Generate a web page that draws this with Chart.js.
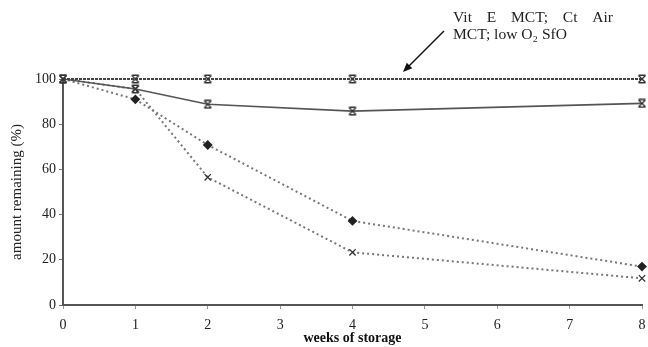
<!DOCTYPE html>
<html>
<head>
<meta charset="utf-8">
<script src="https://cdn.jsdelivr.net/npm/chart.js@4"></script>
<style>
  html, body { margin: 0; padding: 0; background: #fff; }
  #wrap { width: 648px; height: 347px; position: relative; }
</style>
</head>
<body>
<div id="wrap"><canvas id="storage_canvas"></canvas></div>
<script>
// weeks of storage
var weeks = [0, 1, 2, 4, 8];
var flatSeries = [100, 100, 100, 100, 100];
var solidSeries = [100, 95.6, 88.8, 85.8, 89.2];
var diamondSeries = [100, 91, 70.8, 37.2, 17];
var crossSeries = [100, 95.6, 56.5, 23.3, 11.8];
var xTicks = [0, 1, 2, 3, 4, 5, 6, 7, 8];
var yTicks = [0, 20, 40, 60, 80, 100];
var noteLine1 = ['Vit', 'E', 'MCT;', 'Ct', 'Air'];
var noteLine2 = 'MCT; low O\u2082 SfO';

var serif = '"Liberation Serif", "DejaVu Serif", serif';

function toPoints(values) {
    return weeks.map(function(w, i) { return {x: w, y: values[i]}; });
}

// hourglass style marker (x with bars top and bottom)
function makeHourglass() {
    var c = document.createElement('canvas');
    c.width = 10; c.height = 10;
    var g = c.getContext('2d');
    g.strokeStyle = '#333';
    g.lineWidth = 1.4;
    g.beginPath();
    g.moveTo(1.5, 1.5); g.lineTo(8.5, 8.5);
    g.moveTo(8.5, 1.5); g.lineTo(1.5, 8.5);
    g.moveTo(1.5, 1.2); g.lineTo(8.5, 1.2);
    g.moveTo(1.5, 8.8); g.lineTo(8.5, 8.8);
    g.stroke();
    return c;
}
var hourglass = makeHourglass();

var notePlugin = {
    id: 'note',
    afterDraw: function(chart) {
        var ctx = chart.ctx;
        ctx.save();
        ctx.fillStyle = '#222';
        ctx.font = '14px ' + serif;
        ctx.textBaseline = 'alphabetic';
        var left = 453, right = 613;
        var stretch = 114 / ctx.measureText(noteLine2).width;
        ctx.translate(left, 0);
        ctx.scale(stretch, 1);
        var span = (right - left) / stretch;
        // first line is justified
        var widths = noteLine1.map(function(w) { return ctx.measureText(w).width; });
        var total = widths.reduce(function(a, b) { return a + b; }, 0);
        var gap = (span - total) / (noteLine1.length - 1);
        var x = 0;
        noteLine1.forEach(function(w, i) {
            ctx.fillText(w, x, 22);
            x += widths[i] + gap;
        });
        ctx.fillText(noteLine2, 0, 38.5);
        ctx.setTransform(1, 0, 0, 1, 0, 0);

        // arrow
        ctx.strokeStyle = '#111';
        ctx.fillStyle = '#111';
        ctx.lineWidth = 1.5;
        var x1 = 444, y1 = 31, x2 = 403, y2 = 72;
        ctx.beginPath();
        ctx.moveTo(x1, y1);
        ctx.lineTo(x2 + 5, y2 - 5);
        ctx.stroke();
        var ang = Math.atan2(y2 - y1, x2 - x1);
        ctx.beginPath();
        ctx.moveTo(x2, y2);
        ctx.lineTo(x2 - 10 * Math.cos(ang - 0.4), y2 - 10 * Math.sin(ang - 0.4));
        ctx.lineTo(x2 - 10 * Math.cos(ang + 0.4), y2 - 10 * Math.sin(ang + 0.4));
        ctx.closePath();
        ctx.fill();
        ctx.restore();
    }
};

var ctx = document.getElementById('storage_canvas').getContext('2d');
window.storageChart = new Chart(ctx, {
    type: 'line',
    data: {
        datasets: [{
            label: 'Vit E MCT; Ct Air MCT; low O2 SfO',
            data: toPoints(flatSeries),
            borderColor: '#444',
            borderWidth: 1.8,
            borderDash: [3, 1],
            pointStyle: hourglass,
            clip: false
        }, {
            label: 'solid',
            data: toPoints(solidSeries),
            borderColor: '#555',
            borderWidth: 1.6,
            pointStyle: hourglass,
            clip: false
        }, {
            label: 'diamond',
            data: toPoints(diamondSeries),
            borderColor: '#777',
            borderWidth: 2,
            borderDash: [2, 3],
            pointStyle: 'rectRot',
            pointRadius: [0, 3.5, 3.5, 3.5, 3.5],
            pointBackgroundColor: '#222',
            pointBorderColor: '#222',
            clip: false
        }, {
            label: 'cross',
            data: toPoints(crossSeries),
            borderColor: '#777',
            borderWidth: 2,
            borderDash: [2, 3],
            pointStyle: 'crossRot',
            pointRadius: [0, 4.5, 4.5, 4.5, 4.5],
            pointBorderColor: '#333',
            pointBorderWidth: 1.3,
            clip: false
        }]
    },
    options: {
        responsive: true,
        maintainAspectRatio: false,
        animation: false,
        layout: { padding: { top: 79, right: 2, left: 0, bottom: 0 } },
        plugins: {
            legend: { display: false },
            tooltip: { enabled: false }
        },
        scales: {
            x: {
                type: 'linear',
                min: 0,
                max: 8,
                afterBuildTicks: function(axis) {
                    axis.ticks = xTicks.map(function(v) { return {value: v}; });
                },
                border: { color: '#555', width: 2 },
                grid: { drawOnChartArea: false, drawTicks: true, tickLength: 4, color: '#999' },
                ticks: { color: '#222', font: { family: serif, size: 14 }, padding: 8, maxRotation: 0 },
                title: {
                    display: true,
                    text: 'weeks of storage',
                    color: '#111',
                    font: { family: serif, size: 14, weight: 'bold' },
                    padding: { top: -4, bottom: 0 }
                },
                afterFit: function(axis) {
                    axis.height = 42;
                    axis.paddingLeft = 0;
                    axis.paddingRight = 0;
                }
            },
            y: {
                min: 0,
                max: 100,
                afterBuildTicks: function(axis) {
                    axis.ticks = yTicks.map(function(v) { return {value: v}; });
                },
                border: { color: '#555', width: 2 },
                grid: { drawOnChartArea: false, drawTicks: true, tickLength: 4, color: '#777' },
                ticks: { color: '#222', font: { family: serif, size: 14 }, padding: 3 },
                title: {
                    display: true,
                    text: 'amount remaining (%)',
                    color: '#222',
                    font: { family: serif, size: 15 },
                    padding: { top: 8, bottom: 0 }
                },
                afterFit: function(axis) {
                    axis.width = 63;
                    axis.paddingTop = 0;
                    axis.paddingBottom = 0;
                }
            }
        }
    },
    plugins: [notePlugin]
});
</script>
</body>
</html>
